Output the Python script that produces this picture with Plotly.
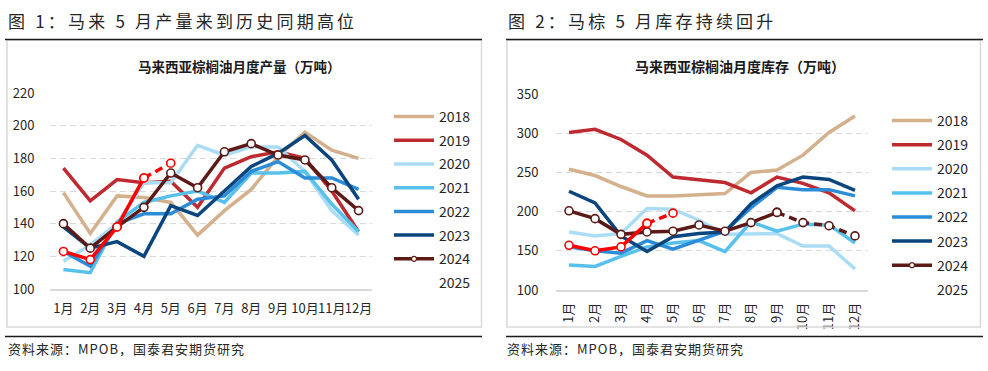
import plotly.graph_objects as go

months = ["1月", "2月", "3月", "4月", "5月", "6月", "7月", "8月", "9月", "10月", "11月", "12月"]
years = ["2018", "2019", "2020", "2021", "2022", "2023", "2024", "2025"]

# Malaysia palm oil monthly production (10k tonnes)
prod_2018 = [159, 134, 157, 156, 153, 133, 148, 161, 181, 196, 185, 180]
prod_2019 = [174, 154, 167, 165, 166, 150, 174, 181, 184, 180, 160, 135]
prod_2020 = [117, 127, 140, 165, 165, 188, 182, 187, 187, 172, 148, 133]
prod_2021 = [112, 110, 141, 153, 157, 160, 153, 171, 171, 172, 152, 135]
prod_2022 = [123, 114, 140, 146, 146, 155, 157, 172, 178, 168, 168, 161]
prod_2023 = [138, 125, 129, 120, 151, 145, 160, 175, 183, 194, 179, 155]
prod_2024 = [140, 125, 138, 150, 171, 162, 184, 189, 182, 179, 162, 148]
prod_2025 = [123, 118, 138, 168, 177]

# Malaysia palm oil monthly stocks (10k tonnes)
stock_2018 = [254, 246, 232, 220, 220, 221, 223, 250, 253, 272, 301, 322]
stock_2019 = [301, 305, 292, 272, 244, 241, 237, 224, 244, 236, 224, 201]
stock_2020 = [174, 169, 172, 204, 203, 189, 171, 171, 172, 156, 156, 127]
stock_2021 = [132, 130, 143, 155, 160, 163, 149, 187, 175, 184, 183, 160]
stock_2022 = [155, 150, 147, 163, 152, 163, 175, 205, 231, 228, 228, 220]
stock_2023 = [226, 211, 169, 149, 168, 172, 174, 210, 233, 244, 241, 227]
stock_2024 = [201, 191, 171, 174, 175, 183, 175, 186, 199, 186, 182, 169]
stock_2025 = [157, 150, 155, 185, 198]

prod = [prod_2018, prod_2019, prod_2020, prod_2021, prod_2022, prod_2023, prod_2024]
stock = [stock_2018, stock_2019, stock_2020, stock_2021, stock_2022, stock_2023, stock_2024]

colors = ["#D4B08C", "#BE2A2F", "#AADDF5", "#58C0EC", "#2B8CD8", "#0A457E", "#5C1A17"]
red25 = "#FF0000"

W, H = 988, 371
def px_x(v):
    return v / W
def px_y(v):
    return 1 - v / H

FONT = "Noto Sans CJK SC, Noto Sans, sans-serif"

fig = go.Figure()

def add_panel(data, d25, xa, ya, legend, dashed_from=None):
    for i, (yr, vals) in enumerate(zip(years[:7], data)):
        grp = legend + yr
        if yr == "2024":
            marker = dict(size=8, color="white", line=dict(color=colors[i], width=1.6))
            cut = len(vals) - 1 if dashed_from is None else dashed_from
            fig.add_trace(go.Scatter(x=months[:cut + 1], y=vals[:cut + 1], name=yr,
                                     mode="lines+markers", showlegend=False,
                                     line=dict(color=colors[i], width=3.5), marker=marker,
                                     xaxis=xa, yaxis=ya, legend=legend, legendgroup=grp))
            if dashed_from is not None:
                fig.add_trace(go.Scatter(x=months[dashed_from:], y=vals[dashed_from:], name=yr,
                                         mode="lines+markers", showlegend=False,
                                         line=dict(color=colors[i], width=3.5, dash="8px,5px"),
                                         marker=marker,
                                         xaxis=xa, yaxis=ya, legend=legend, legendgroup=grp))
            # legend entry with a small marker
            fig.add_trace(go.Scatter(x=[None], y=[None], name=yr, mode="lines+markers",
                                     line=dict(color=colors[i], width=3.5),
                                     marker=dict(size=5, color="white",
                                                 line=dict(color=colors[i], width=1.2)),
                                     xaxis=xa, yaxis=ya, legend=legend, legendgroup=grp))
        else:
            fig.add_trace(go.Scatter(x=months, y=vals, name=yr, mode="lines",
                                     line=dict(color=colors[i], width=3.5),
                                     xaxis=xa, yaxis=ya, legend=legend, legendgroup=grp))
    # 2025
    grp = legend + "2025"
    m25 = dict(size=8, color="white", line=dict(color=red25, width=1.6))
    n = len(d25)
    fig.add_trace(go.Scatter(x=months[:n - 1], y=d25[:n - 1], name="2025", mode="lines+markers",
                             line=dict(color=red25, width=3.5), marker=m25, showlegend=False,
                             xaxis=xa, yaxis=ya, legend=legend, legendgroup=grp))
    fig.add_trace(go.Scatter(x=months[n - 2:n], y=d25[n - 2:n], name="2025", mode="lines+markers",
                             line=dict(color=red25, width=3.5, dash="8px,5px"), marker=m25,
                             showlegend=False,
                             xaxis=xa, yaxis=ya, legend=legend, legendgroup=grp))
    fig.add_trace(go.Scatter(x=[None], y=[None], name="2025", mode="lines",
                             line=dict(color="rgba(0,0,0,0)", width=3.5),
                             xaxis=xa, yaxis=ya, legend=legend, legendgroup=grp))

add_panel(prod, prod_2025, "x", "y", "legend")
add_panel(stock, stock_2025, "x2", "y2", "legend2", dashed_from=8)

axis_common_x = dict(type="category", showgrid=False, showline=True, linecolor="#D9D9D9",
                     linewidth=1.5, ticks="outside", tickcolor="rgba(0,0,0,0)",
                     tickfont=dict(family=FONT, size=13, color="#262626"), range=[-0.5, 11.5],
                     fixedrange=True, automargin=False)
axis_common_y = dict(showgrid=True, gridcolor="#D9D9D9", griddash="6px,4px", gridwidth=1,
                     zeroline=False, showline=False, ticks="outside", tickcolor="rgba(0,0,0,0)",
                     tickfont=dict(family=FONT, size=13, color="#262626"), automargin=False,
                     fixedrange=True)

fig.update_layout(
    width=W, height=H,
    margin=dict(l=0, r=0, t=0, b=0, pad=0),
    paper_bgcolor="white", plot_bgcolor="white",
    showlegend=True,
    hovermode=False,
    xaxis=dict(domain=[px_x(50), px_x(372)], anchor="y", ticklen=7, tickangle=0, **axis_common_x),
    yaxis=dict(domain=[px_y(289), px_y(93)], anchor="x", range=[100, 220], dtick=20, ticklen=12,
               **axis_common_y),
    xaxis2=dict(domain=[px_x(556), px_x(868)], anchor="y2", ticklen=6, tickangle=-90, **axis_common_x),
    yaxis2=dict(domain=[px_y(290), px_y(94)], anchor="x2", range=[100, 350], dtick=50, ticklen=14,
                **axis_common_y),
    legend=dict(x=px_x(389), y=px_y(101), xanchor="left", yanchor="top",
                font=dict(family=FONT, size=14, color="#262626"), bgcolor="rgba(0,0,0,0)",
                traceorder="grouped", tracegroupgap=2.5, itemwidth=40),
    legend2=dict(x=px_x(887), y=px_y(105), xanchor="left", yanchor="top",
                 font=dict(family=FONT, size=14, color="#262626"), bgcolor="rgba(0,0,0,0)",
                 traceorder="grouped", tracegroupgap=2.9, itemwidth=40),
)

shapes = []
for (x0, x1, bx0, bx1) in [(5, 482, 7, 481.5), (506, 983, 507, 980.5)]:
    shapes.append(dict(type="rect", xref="paper", yref="paper", x0=px_x(bx0), x1=px_x(bx1),
                       y0=px_y(327), y1=px_y(40), line=dict(color="#D9D9D9", width=1.5)))
    shapes.append(dict(type="line", xref="paper", yref="paper", x0=px_x(x0), x1=px_x(x1),
                       y0=px_y(39.5), y1=px_y(39.5), line=dict(color="#1a1a1a", width=1.5)))
    shapes.append(dict(type="line", xref="paper", yref="paper", x0=px_x(x0), x1=px_x(x1),
                       y0=px_y(336.5), y1=px_y(336.5), line=dict(color="#1a1a1a", width=1.5)))
fig.update_layout(shapes=shapes)

def ann(text, x, y, size, xanchor="left", color="#262626", bold=False, ls=0):
    t = text
    if ls:
        t = '<span style="letter-spacing:%spx">%s</span>' % (ls, t)
    if bold:
        t = "<b>" + t + "</b>"
    fig.add_annotation(text=t, xref="paper", yref="paper", x=px_x(x), y=px_y(y),
                       xanchor=xanchor, yanchor="middle", showarrow=False,
                       font=dict(family=FONT, size=size, color=color))

ann("图 1：马来 5 月产量来到历史同期高位", 6, 21, 17, ls=3.2)
ann("图 2：马棕 5 月库存持续回升", 506, 21, 17, ls=3.2)
ann("马来西亚棕榈油月度产量（万吨）", 239, 66, 13.5, xanchor="center", bold=True, color="#1a1a1a")
ann("马来西亚棕榈油月度库存（万吨）", 740, 66, 14, xanchor="center", bold=True, color="#1a1a1a")
ann("资料来源：MPOB，国泰君安期货研究", 6, 348, 13, ls=1)
ann("资料来源：MPOB，国泰君安期货研究", 505, 348, 13, ls=1)

fig.write_html("out.html", config={"displayModeBar": False, "staticPlot": True},
               post_script="document.body.style.margin='0px';")
